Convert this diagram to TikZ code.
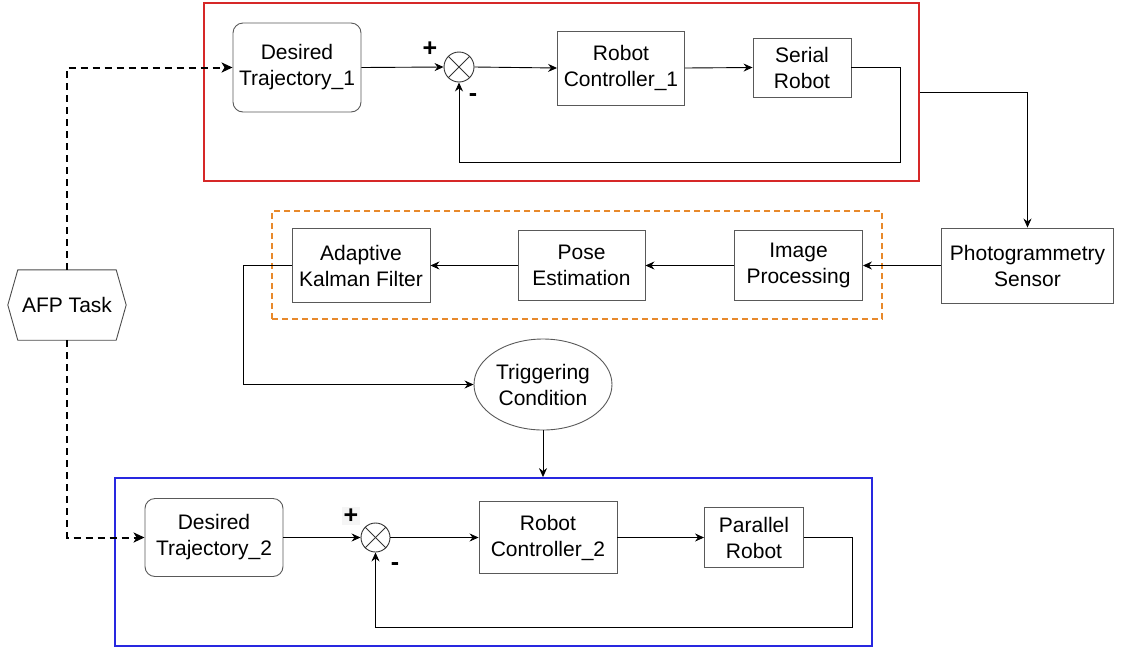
\documentclass[tikz,border=0pt]{standalone}
\usepackage{fontspec}
\setmainfont{Liberation Sans}
\usetikzlibrary{arrows.meta,shapes.geometric}
\definecolor{loopred}{RGB}{214,40,40}
\definecolor{loopblue}{RGB}{40,40,224}
\definecolor{estorange}{RGB}{232,137,43}

\begin{document}
\begin{tikzpicture}[x=1pt,y=-1pt,font=\fontsize{21}{26}\selectfont]
\tikzstyle{block} = [rectangle, draw=black!65, line width=0.9pt, align=center, inner sep=0pt]
\tikzstyle{goal} = [block, rounded corners=10pt]
\tikzstyle{sum} = [circle, draw=black!80, line width=0.9pt, minimum size=30pt, inner sep=0pt]
\tikzstyle{cloud} = [ellipse, draw=black!65, line width=0.9pt, align=center, inner sep=0pt]
\tikzstyle{frame} = [rectangle, line width=1.8pt, inner sep=0pt]
\tikzstyle{sign} = [font=\fontsize{25}{25}\selectfont\bfseries, inner sep=1pt]
\tikzstyle{line} = [draw, line width=0.9pt, -{Stealth[length=9pt,width=8pt,inset=3pt]}]
\tikzstyle{task} = [draw, line width=2pt, dash pattern=on 7pt off 5pt, -{Stealth[length=11pt,width=10pt,inset=3pt]}]
\useasboundingbox (0,0) rectangle (1125,649);

% frames
\node [frame, draw=loopred, minimum width=715pt, minimum height=178pt] (loop1) at (561.5,92) {};
\node [frame, draw=estorange, dash pattern=on 6pt off 4pt, minimum width=610pt, minimum height=108pt] (est) at (577,265) {};
\node [frame, draw=loopblue, minimum width=757pt, minimum height=168pt] (loop2) at (493.5,562) {};

% task
\node [minimum width=118pt, minimum height=70pt, inner sep=0pt] (afp) at (67,305) {AFP Task};
\draw [black!70, line width=0.9pt] (afp.west) -- ([xshift=10pt]afp.north west) -- ([xshift=-10pt]afp.north east)
  -- (afp.east) -- ([xshift=-10pt]afp.south east) -- ([xshift=10pt]afp.south west) -- cycle;

% serial robot loop
\node [goal, minimum width=128pt, minimum height=89pt] (dt1) at (297,67.5) {Desired\\Trajectory\_1};
\node [sum] (sum1) at (459,67) {};
\node [block, minimum width=127pt, minimum height=74pt] (rc1) at (621,68) {Robot\\Controller\_1};
\node [block, minimum width=98pt, minimum height=59pt] (sr) at (802,67.5) {Serial\\Robot};
\node [sign] (plus1) at (430,49) {+};
\node [sign] (minus1) at (473,98) {-};
\coordinate (fb1) at (900,162);

% estimation
\node [block, minimum width=172pt, minimum height=75pt] (ps) at (1027.5,265.5) {Photogrammetry\\Sensor};
\node [block, minimum width=128pt, minimum height=70pt] (ip) at (798.5,265.5) {Image\\Processing};
\node [block, minimum width=127pt, minimum height=70pt] (pe) at (581.5,265.5) {Pose\\Estimation};
\node [block, minimum width=138pt, minimum height=74pt] (akf) at (361,265.5) {Adaptive\\Kalman Filter};
\node [cloud, minimum width=138pt, minimum height=91pt] (tc) at (543,384.5) {Triggering\\Condition};
\coordinate (fb3) at (243.5,384.5);

% parallel robot loop
\node [goal, minimum width=138pt, minimum height=78pt] (dt2) at (214,537.5) {Desired\\Trajectory\_2};
\node [sum, minimum size=29pt] (sum2) at (375.5,537.5) {};
\node [block, minimum width=138pt, minimum height=72pt] (rc2) at (548,537.5) {Robot\\Controller\_2};
\node [block, minimum width=99pt, minimum height=60pt] (pr) at (754,537.5) {Parallel\\Robot};
\node [sign, fill=black!4, inner sep=2pt] (plus2) at (351,516) {+};
\node [sign] (minus2) at (395,567) {-};
\coordinate (fb2) at (852.5,627);

\foreach \s in {sum1,sum2} {
  \draw [black!80, line width=0.9pt] (\s.north west) -- (\s.south east);
  \draw [black!80, line width=0.9pt] (\s.north east) -- (\s.south west);
}

\path [task] (afp.north) |- (dt1.west);
\path [task] (afp.south) |- (dt2.west);

\path [line] (dt1.east) -- (sum1.west);
\path [line] (sum1.east) -- (rc1.west);
\path [line] (rc1.east) -- (sr.west);
\path [line] (sr.east) -| (fb1) -| (sum1.south);
\path [line] (loop1.east) -| (ps.north);

\path [line] (ps.west) -- (ip.east);
\path [line] (ip.west) -- (pe.east);
\path [line] (pe.west) -- (akf.east);
\path [line] (akf.west) -| (fb3) -- (tc.west);
\path [line] (tc.south) -- (tc.south |- loop2.north);

\path [line] (dt2.east) -- (sum2.west);
\path [line] (sum2.east) -- (rc2.west);
\path [line] (rc2.east) -- (pr.west);
\path [line] (pr.east) -| (fb2) -| (sum2.south);

\end{tikzpicture}
\end{document}
